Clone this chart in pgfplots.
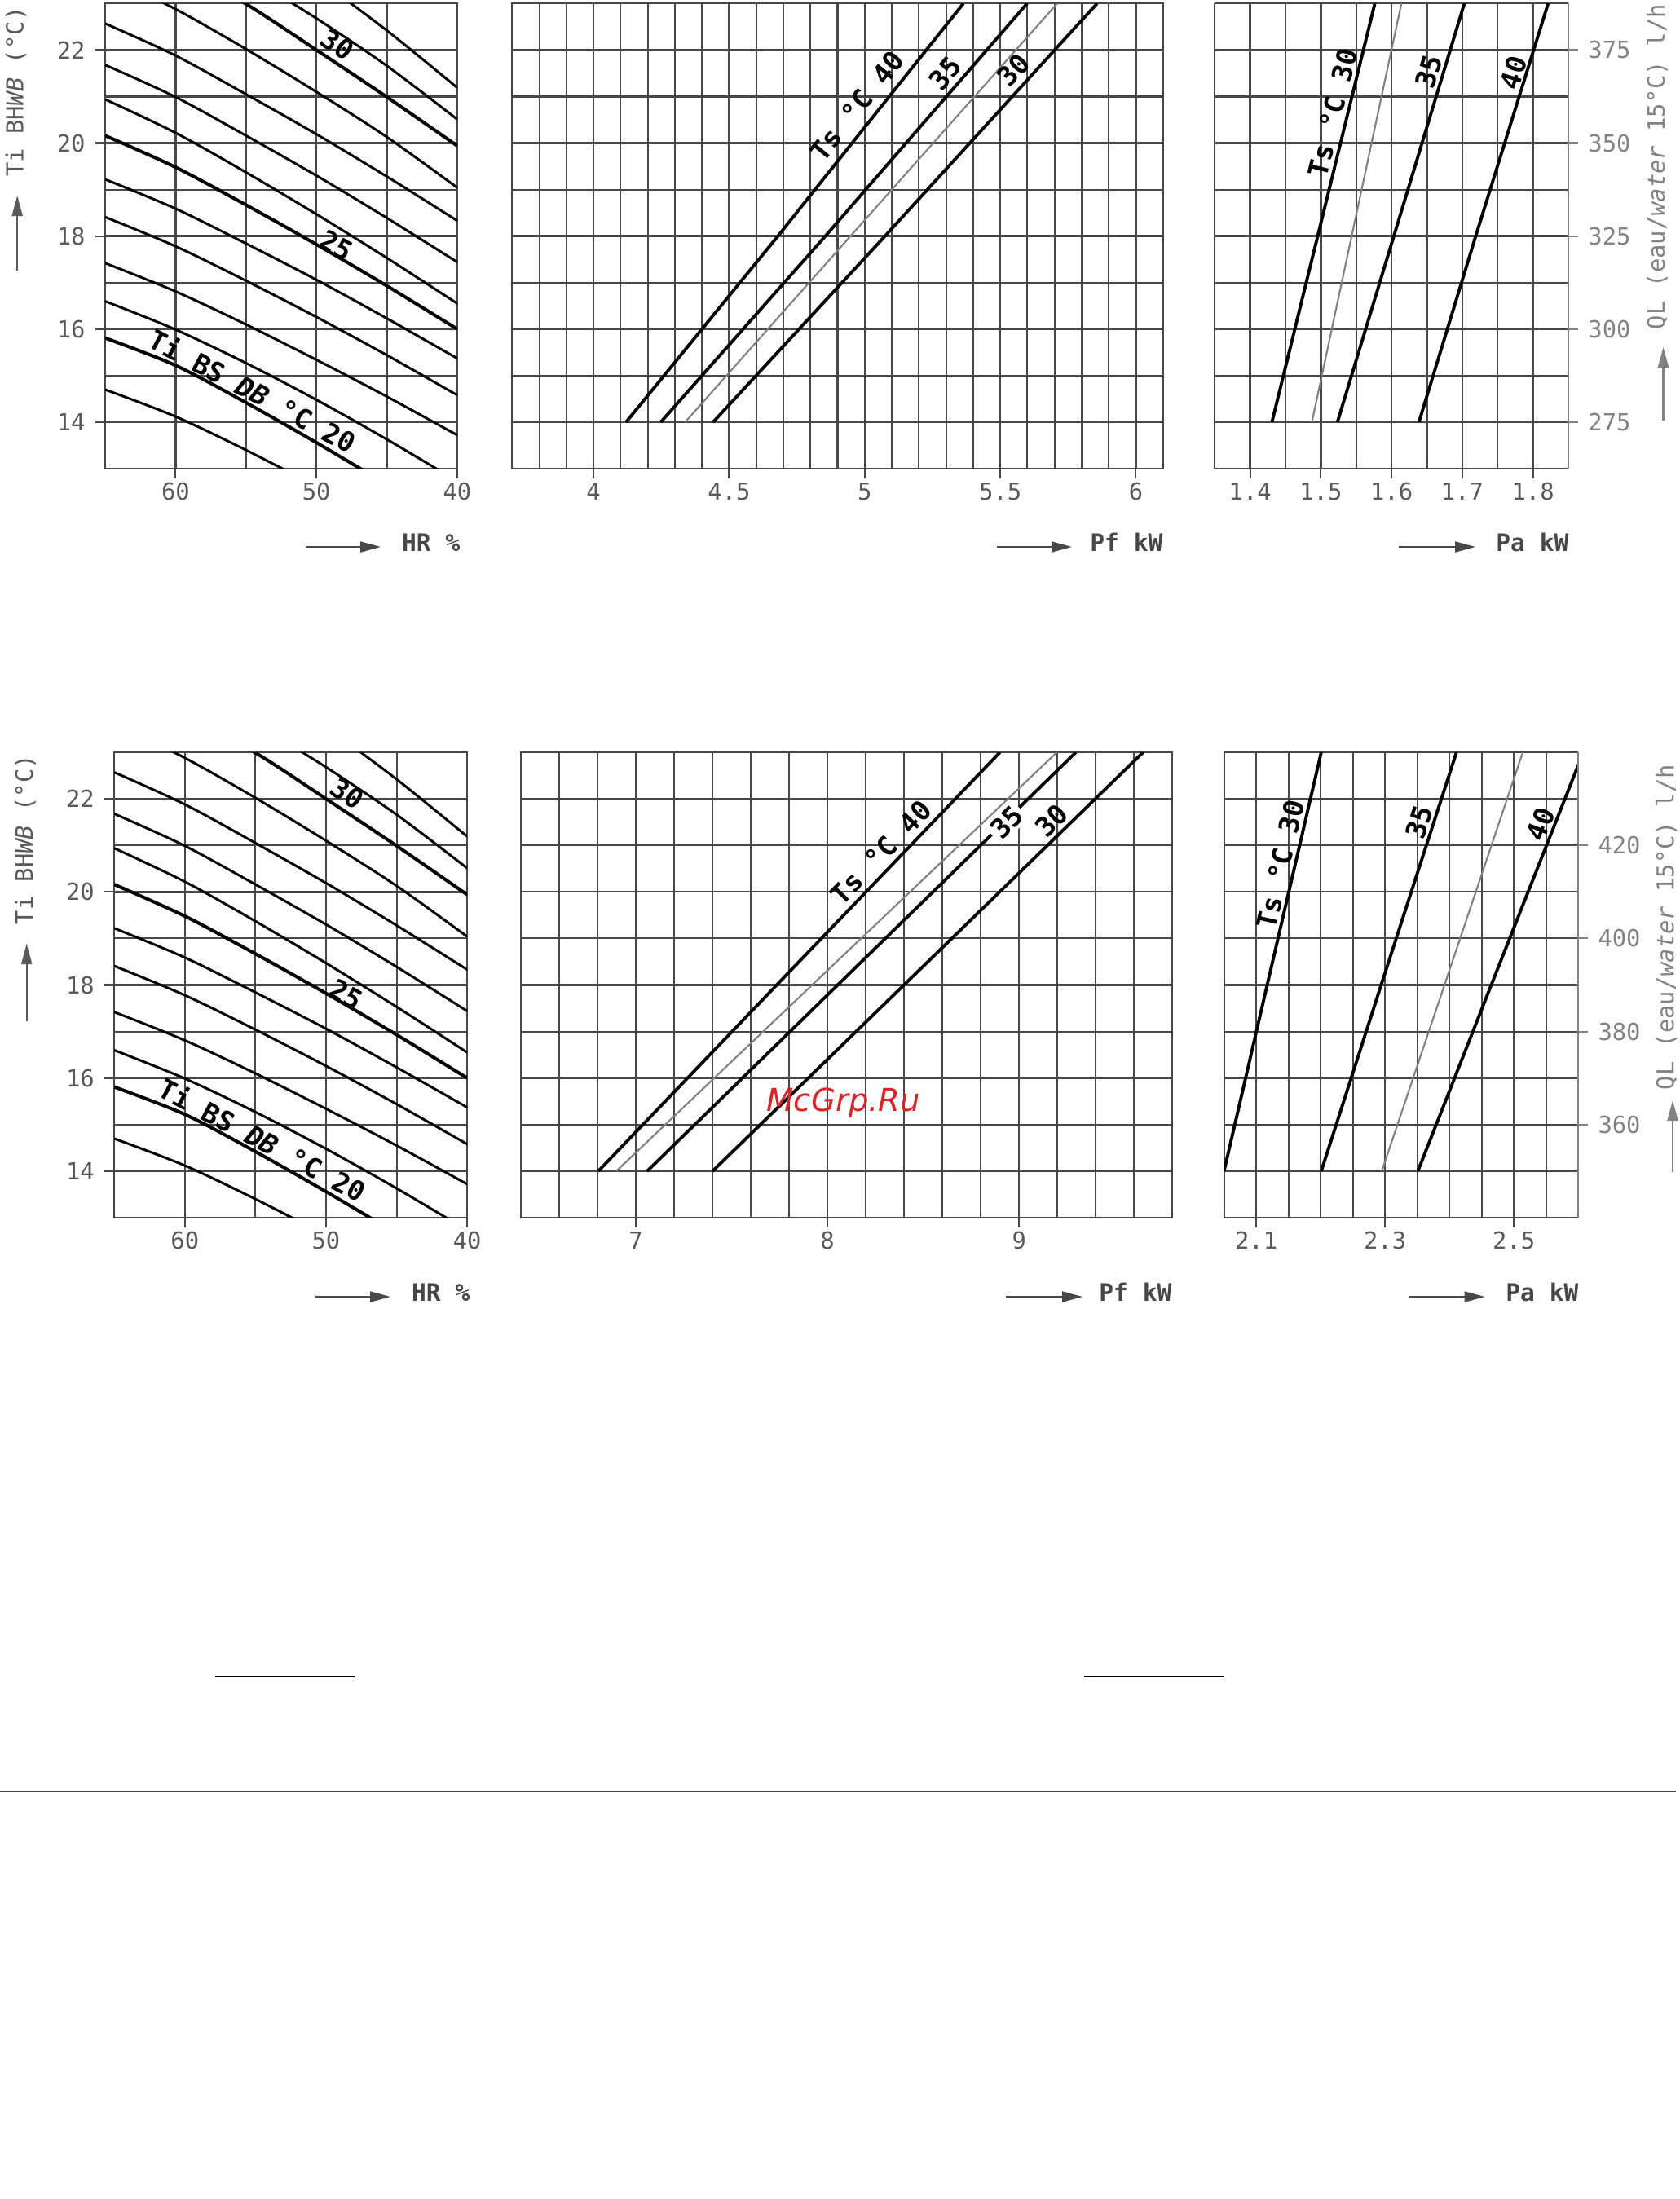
\documentclass[border=0pt]{standalone}
\usepackage{fontspec}
\setmainfont{DejaVu Sans Mono}
\newfontfamily\wmfont{DejaVu Sans}
\usepackage{pgfplots}
\pgfplotsset{compat=1.18}
\usetikzlibrary{arrows.meta}

\definecolor{gridc}{HTML}{474747}
\definecolor{tickc}{HTML}{595959}
\definecolor{qlc}{HTML}{828282}
\definecolor{curvegray}{HTML}{808080}
\definecolor{wmred}{HTML}{D7262B}

\newcommand{\tickfont}{\fontsize{8.2}{9}\selectfont}

\tikzset{lab/.style={font=\fontsize{9.5}{10}\selectfont\bfseries, inner sep=0pt}}

\pgfplotsset{
  panel/.style={
    scale only axis, anchor=north west,
    axis line style={gridc, line width=0.6pt},
    grid=both,
    major grid style={gridc, line width=0.7pt},
    minor grid style={gridc, line width=0.6pt},
    tick align=outside,
    major tick length=1.2mm, minor tick length=0pt,
    tick style={gridc, line width=0.6pt},
    xtick pos=bottom, ytick pos=left,
    ymin=13, ymax=23,
    tick label style={font=\tickfont, text=tickc},
    xticklabel style={yshift=0.7mm},
    /pgf/number format/assume math mode=true,
  },
  qlaxis/.style={
    scale only axis, anchor=north west,
    xmin=0, xmax=1, axis x line=none, axis y line*=right,
    y axis line style={qlc, line width=0.6pt, -},
    tick align=outside, major tick length=1.2mm, minor tick length=0pt,
    ytick style={qlc, line width=0.6pt},
    yticklabel style={font=\tickfont, text=qlc},
    /pgf/number format/assume math mode=true,
  },
  dbthin/.style={black, line width=0.85pt, smooth, mark=none},
  dbthick/.style={black, line width=1.15pt, smooth, mark=none},
  tsline/.style={black, line width=1.1pt, mark=none},
  tsgray/.style={curvegray, line width=0.6pt, mark=none},
}

% dry bulb curves, Ti WB against HR
\newcommand{\dbcurves}{%
  \addplot[dbthin]  coordinates {(65,14.70) (60,14.12) (55,13.40) (50,12.62)};
  \addplot[dbthick] coordinates {(65,15.81) (60,15.22) (55,14.42) (50,13.56) (45,12.66)};
  \addplot[dbthin]  coordinates {(65,16.60) (60,15.99) (55,15.27) (50,14.48) (45,13.63) (40,12.73)};
  \addplot[dbthin]  coordinates {(65,17.42) (60,16.81) (55,16.10) (50,15.34) (45,14.55) (40,13.72)};
  \addplot[dbthin]  coordinates {(65,18.41) (60,17.78) (55,17.04) (50,16.26) (45,15.44) (40,14.58)};
  \addplot[dbthin]  coordinates {(65,19.22) (60,18.59) (55,17.84) (50,17.06) (45,16.23) (40,15.37)};
  \addplot[dbthick] coordinates {(65,20.16) (60,19.48) (55,18.67) (50,17.82) (45,16.93) (40,16.00)};
  \addplot[dbthin]  coordinates {(65,20.94) (60,20.22) (55,19.37) (50,18.47) (45,17.53) (40,16.55)};
  \addplot[dbthin]  coordinates {(65,21.68) (60,20.99) (55,20.16) (50,19.30) (45,18.39) (40,17.44)};
  \addplot[dbthin]  coordinates {(65,22.57) (60,21.88) (55,21.05) (50,20.19) (45,19.28) (40,18.33)};
  \addplot[dbthin]  coordinates {(65,23.62) (60,22.88) (55,22.02) (50,21.10) (45,20.13) (40,19.04)};
  \addplot[dbthick] coordinates {(60,23.80) (55,22.99) (50,22.00) (45,20.99) (40,19.94)};
  \addplot[dbthin]  coordinates {(55,23.62) (50,22.68) (45,21.66) (40,20.51)};
  \addplot[dbthin]  coordinates {(50,23.55) (45,22.42) (40,21.19)};
  \node[lab, rotate=-34] at (axis cs:48.5,22.12) {30};
  \node[lab, rotate=-30] at (axis cs:48.56,17.80) {25};
  \node[lab, rotate=-28] at (axis cs:54.5,14.68) {Ti BS \textit{DB} °C 20};
}

\begin{document}
\begin{tikzpicture}
\useasboundingbox (0,0) rectangle (206mm,-269.8mm);

% ---------- top row ----------
\begin{axis}[panel, at={(12.9mm,-0.43mm)}, width=43.2mm, height=57.07mm,
  x dir=reverse, xmin=40, xmax=65, xtick={40,50,60}, minor xtick={45,55},
  ytick={14,16,18,20,22}, minor ytick={15,17,19,21}]
  \dbcurves
\end{axis}

\begin{axis}[panel, at={(62.83mm,-0.43mm)}, width=79.84mm, height=57.07mm,
  xmin=3.7, xmax=6.1, xtick={4,4.5,5,5.5,6},
  minor xtick={3.8,3.9,4.1,4.2,4.3,4.4,4.6,4.7,4.8,4.9,5.1,5.2,5.3,5.4,5.6,5.7,5.8,5.9},
  ytick={14,18,22}, minor ytick={15,16,17,19,20,21}, yticklabels={}, ytick style={draw=none}]
  \addplot[tsline] coordinates {(4.12,14) (4.68,18) (5.364,23)};
  \addplot[tsline] coordinates {(4.248,14) (4.855,18) (5.599,23)};
  \addplot[tsgray] coordinates {(4.338,14) (5.71,23)};
  \addplot[tsline] coordinates {(4.441,14) (5.075,18) (5.857,23)};
  \node[lab, rotate=51] at (axis cs:4.972,20.80) {Ts °C 40};
  \node[lab, rotate=49] at (axis cs:5.296,21.50) {35};
  \node[lab, rotate=47.5] at (axis cs:5.548,21.57) {30};
\end{axis}

\begin{axis}[panel, at={(149.03mm,-0.43mm)}, width=43.37mm, height=57.07mm,
  axis y line*=left, y axis line style={-},
  xmin=1.35, xmax=1.85, xtick={1.4,1.5,1.6,1.7,1.8}, minor xtick={1.45,1.55,1.65,1.75},
  ytick={14,18,22}, minor ytick={15,16,17,19,20,21}, yticklabels={}, ytick style={draw=none}]
  \addplot[tsline] coordinates {(1.4308,14) (1.4955,18) (1.5763,23)};
  \addplot[tsgray] coordinates {(1.4873,14) (1.6139,23)};
  \addplot[tsline] coordinates {(1.5234,14) (1.6032,18) (1.7029,23)};
  \addplot[tsline] coordinates {(1.6387,14) (1.7190,18) (1.8214,23)};
  \node[lab, rotate=76] at (axis cs:1.5167,20.65) {Ts °C 30};
  \node[lab, rotate=73] at (axis cs:1.6524,21.53) {35};
  \node[lab, rotate=73] at (axis cs:1.7722,21.51) {40};
\end{axis}
\begin{axis}[qlaxis, at={(149.03mm,-0.43mm)}, width=43.37mm, height=57.07mm,
  ymin=262.5, ymax=387.5, ytick={275,300,325,350,375}]
  \addplot[draw=none] coordinates {(0.5,300)};
\end{axis}

% ---------- bottom row ----------
\begin{axis}[panel, at={(14.02mm,-92.3mm)}, width=43.3mm, height=57.1mm,
  x dir=reverse, xmin=40, xmax=65, xtick={40,50,60}, minor xtick={45,55},
  ytick={14,16,18,20,22}, minor ytick={15,17,19,21}]
  \dbcurves
\end{axis}

\begin{axis}[panel, at={(63.9mm,-92.3mm)}, width=79.93mm, height=57.1mm,
  xmin=6.4, xmax=9.8, xtick={7,8,9},
  minor xtick={6.6,6.8,7.2,7.4,7.6,7.8,8.2,8.4,8.6,8.8,9.2,9.4,9.6},
  ytick={14,16}, minor ytick={15,17,18,19,20,21,22}, yticklabels={}, ytick style={draw=none}]
  \addplot[tsline] coordinates {(6.804,14) (7.735,18) (8.90,23)};
  \addplot[tsgray] coordinates {(6.898,14) (9.197,23)};
  \addplot[tsline] coordinates {(7.059,14) (8.053,18) (9.296,23)};
  \addplot[tsline] coordinates {(7.40,14) (8.399,18) (9.647,23)};
  \node[lab, rotate=46] at (axis cs:8.28,20.85) {Ts °C 40};
  \node[lab, rotate=45, fill=white, inner sep=1pt] at (axis cs:8.934,21.50) {35};
  \node[lab, rotate=45] at (axis cs:9.17,21.53) {30};
  \node[font=\wmfont\itshape\fontsize{11}{12}\selectfont, text=wmred, anchor=base, inner sep=0pt]
    at (axis cs:8.084,15.29) {McGrp.Ru};
\end{axis}

\begin{axis}[panel, at={(150.16mm,-92.3mm)}, width=43.45mm, height=57.1mm,
  axis y line*=left, y axis line style={-},
  xmin=2.05, xmax=2.6, xtick={2.1,2.3,2.5}, minor xtick={2.15,2.2,2.25,2.35,2.4,2.45,2.55},
  ytick={14,16}, minor ytick={15,17,18,19,20,21,22}, yticklabels={}, ytick style={draw=none}]
  \addplot[tsline] coordinates {(2.05,14) (2.117,18) (2.201,23)};
  \addplot[tsline] coordinates {(2.201,14) (2.294,18) (2.411,23)};
  \addplot[tsgray] coordinates {(2.295,14) (2.514,23)};
  \addplot[tsline] coordinates {(2.351,14) (2.465,18) (2.608,23)};
  \node[lab, rotate=77] at (axis cs:2.1379,20.59) {Ts °C 30};
  \node[lab, rotate=72] at (axis cs:2.3535,21.50) {35};
  \node[lab, rotate=68.5] at (axis cs:2.5416,21.46) {40};
\end{axis}
\begin{axis}[qlaxis, at={(150.16mm,-92.3mm)}, width=43.45mm, height=57.1mm,
  ymin=340, ymax=440, ytick={360,380,400,420}]
  \addplot[draw=none] coordinates {(0.5,400)};
\end{axis}

% ---------- axis titles, arrows, rules (pixel units, y down) ----------
\begin{scope}[x=0.1mm, y=-0.1mm]
  \tikzset{
    arr/.style={line width=0.6pt, -{Triangle[length=2.5mm, width=1.3mm]}},
    ttl/.style={font=\tickfont, inner sep=0pt},
    xttl/.style={font=\fontsize{8.4}{9}\selectfont\bfseries, text=black!72, inner sep=0pt, anchor=base east},
  }
  % top row
  \node[ttl, text=tickc, rotate=90, anchor=base west] at (28.5,217.5) {Ti BH\textit{WB} (°C)};
  \draw[arr, tickc] (21.2,332) -- (21.2,240);
  \draw[arr, gridc] (375,671) -- (467,671);
  \node[xttl] at (565,676) {HR \%};
  \draw[arr, gridc] (1223,671) -- (1315,671);
  \node[xttl] at (1427,676) {Pf kW};
  \draw[arr, gridc] (1716,671) -- (1810,671);
  \node[xttl] at (1925,676) {Pa kW};
  \node[ttl, text=qlc, rotate=90, anchor=base west] at (2042,405) {QL (eau/\textit{water} 15°C) l/h};
  \draw[arr, qlc] (2040.5,516) -- (2040.5,426);
  % bottom row
  \node[ttl, text=tickc, rotate=90, anchor=base west] at (40,1135) {Ti BH\textit{WB} (°C)};
  \draw[arr, tickc] (32.7,1253) -- (32.7,1158);
  \draw[arr, gridc] (386.5,1591) -- (479,1591);
  \node[xttl] at (577,1596) {HR \%};
  \draw[arr, gridc] (1234,1591) -- (1328,1591);
  \node[xttl] at (1438,1596) {Pf kW};
  \draw[arr, gridc] (1728,1591) -- (1821.5,1591);
  \node[xttl] at (1937,1596) {Pa kW};
  \node[ttl, text=qlc, rotate=90, anchor=base west] at (2053.3,1338) {QL (eau/\textit{water} 15°C) l/h};
  \draw[arr, qlc] (2052,1437.6) -- (2052,1350);
  % rules lower on the page
  \draw[black, line width=0.4pt] (264,2057) -- (435,2057);
  \draw[black, line width=0.4pt] (1330,2057) -- (1502,2057);
  \draw[gridc, line width=0.6pt] (0,2198) -- (2056,2198);
\end{scope}
\end{tikzpicture}
\end{document}
